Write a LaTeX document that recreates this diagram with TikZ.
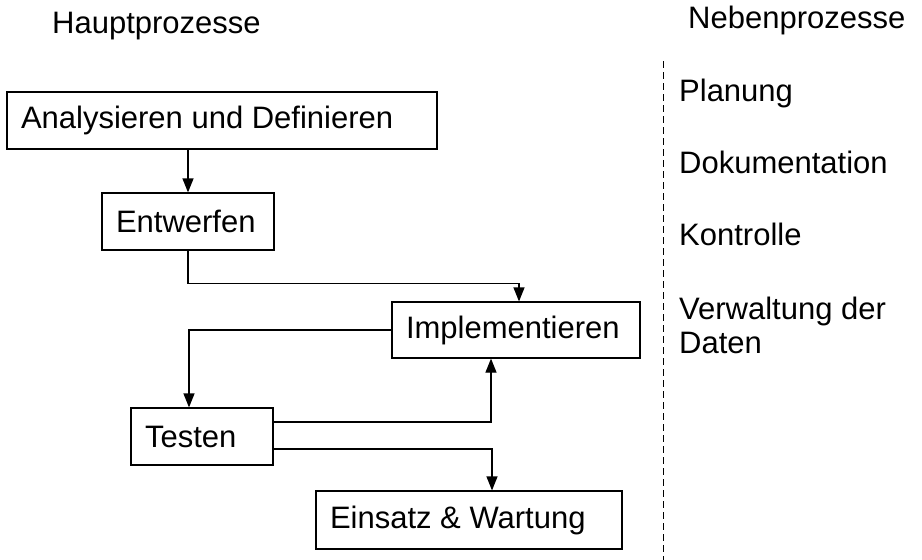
\documentclass[tikz,border=0pt]{standalone}
\usepackage{fontspec}
\setmainfont{Liberation Sans}
\usetikzlibrary{positioning,arrows.meta}
\tikzset{proc node/.style={draw,rectangle,line width=1.2pt,inner xsep=14pt,inner ysep=0pt,minimum height=57pt,align=flush left},
	text node/.style={inner sep=0pt,anchor=base west},
	flow/.style={line width=1.2pt,-{Triangle[length=14pt,width=11pt]}},
}

\begin{document}
\begin{tikzpicture}[x=1pt,y=-1pt,font=\fontsize{31pt}{34pt}\selectfont]
		\useasboundingbox (0,0) rectangle (922,560);
		% Hauptprozesse
		\node[text node] (haupt) at (52,33) {Hauptprozesse};
		\node[proc node,text width=402pt] (analyse) at (222,120.5) {Analysieren und Definieren};
		\node[proc node,text width=144pt] (entwurf) at (188,221.5) {Entwerfen};
		\node[proc node,text width=220pt,minimum height=56pt] (implement) at (516,330) {Implementieren};
		\node[proc node,text width=114pt] (testen) at (202,436.5) {Testen};
		\node[proc node,text width=278pt,minimum height=58pt] (einsatz) at (469,520) {Einsatz \& Wartung};
		
		\draw[flow] (analyse.south -| entwurf.north) -- (entwurf.north);
		\draw[flow] (entwurf.south) -- ++(0,33) -| ([xshift=3pt]implement.north);
		\draw[flow] (implement.west) -| ([xshift=-13pt]testen.north);
		\draw[flow] ([yshift=14.5pt]testen.east) -| ([xshift=-25pt]implement.south);
		\draw[flow] ([yshift=-12.5pt]testen.east) -| ([xshift=23pt]einsatz.north);
		
		% Nebenprozesse
		\coordinate (dtop) at (663,61);
		\coordinate (dbot) at (663,560);
		\draw[line width=1pt,dash pattern=on 7pt off 4pt] (dtop) -- (dbot);
		\node[text node] (neben) at (688,28) {Nebenprozesse};
		\node[text node] (planung) at (679,101) {Planung};
		\node[text node] (doku) at (679,173) {Dokumentation};
		\node[text node] (kontrolle) at (679,245) {Kontrolle};
		\node[text node,anchor=north west,align=left] (daten) at (679,297) {Verwaltung der\\Daten};
		\end{tikzpicture}
\end{document}
